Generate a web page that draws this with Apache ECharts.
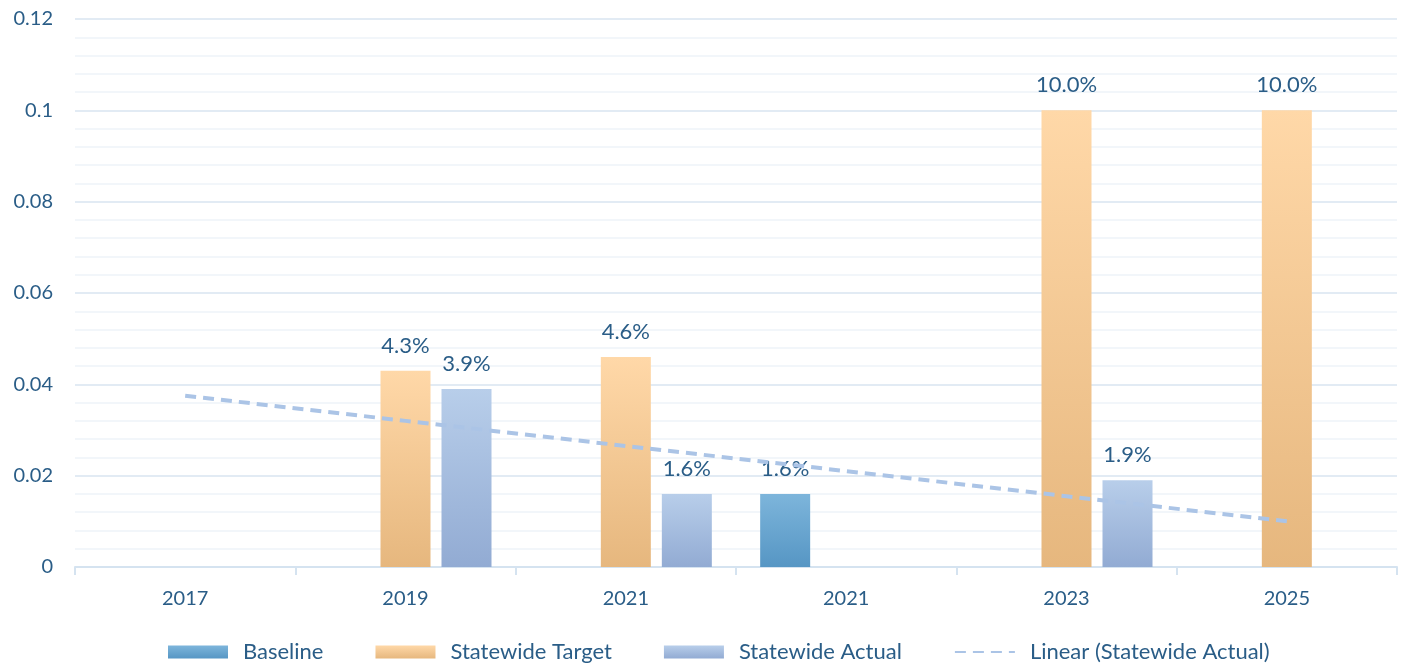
<!DOCTYPE html>
<html>
<head>
<meta charset="utf-8">
<script src="https://cdn.jsdelivr.net/npm/echarts@6/dist/echarts.min.js"></script>
<style>
  html, body { margin: 0; padding: 0; background: #fff; }
  #main { width: 1403px; height: 664px; }
</style>
</head>
<body>
<div id="main"></div>
<script>
const categories = ['2017', '2019', '2021', '2021', '2023', '2025'];
const baseline = ['-', '-', '-', 0.016, '-', '-'];
const target = ['-', 0.043, 0.046, '-', 0.10, 0.10];
const actual = ['-', 0.039, 0.016, '-', 0.019, '-'];
// linear trendline of Statewide Actual
const trend = [0.0375, 0.032, 0.0265, 0.021, 0.0155, 0.010];

const textColor = '#2A5D87';
const fontFamily = 'Lato, "Liberation Sans", sans-serif';

function grad(top, bottom) {
    return new echarts.graphic.LinearGradient(0, 0, 0, 1, [
        { offset: 0, color: top },
        { offset: 1, color: bottom }
    ]);
}

const pctLabel = {
    show: true,
    position: 'top',
    distance: 14,
    color: textColor,
    fontSize: 22,
    fontFamily: fontFamily,
    formatter: p => (p.value * 100).toFixed(1) + '%'
};

let myChart = echarts.init(document.getElementById('main'));
let option = {
    animation: false,
    textStyle: { fontFamily: fontFamily },
    grid: { left: 75, right: 6, top: 19, bottom: 97 },
    legend: {
        top: 636,
        left: 163,
        itemWidth: 60,
        itemHeight: 13,
        itemGap: 52,
        textStyle: { color: textColor, fontSize: 22, fontFamily: fontFamily, padding: [0, 0, 0, 10] },
        data: [
            { name: 'Baseline', icon: 'rect' },
            { name: 'Statewide Target', icon: 'rect' },
            { name: 'Statewide Actual', icon: 'rect' },
            { name: 'Linear (Statewide Actual)', itemStyle: { opacity: 0 } }
        ]
    },
    xAxis: {
        type: 'category',
        data: categories,
        axisLine: { lineStyle: { color: '#D5E3F0', width: 2 } },
        axisTick: { show: true, length: 8, lineStyle: { color: '#D5E3F0', width: 2 } },
        axisLabel: { color: textColor, fontSize: 20, margin: 22, fontFamily: fontFamily }
    },
    yAxis: {
        type: 'value',
        min: 0,
        max: 0.12,
        interval: 0.02,
        axisLine: { show: false },
        axisTick: { show: false },
        axisLabel: { color: textColor, fontSize: 20, margin: 22, fontFamily: fontFamily },
        splitLine: { lineStyle: { color: '#D8E5F1', width: 1.5 } },
        minorTick: { show: false, splitNumber: 5 },
        minorSplitLine: { show: true, lineStyle: { color: '#EEF3F9', width: 1.5 } }
    },
    series: [
        {
            name: 'Baseline',
            type: 'bar',
            barWidth: 50,
            barGap: '22%',
            data: baseline,
            itemStyle: { color: grad('#7DB5DB', '#5696C4') },
            label: pctLabel
        },
        {
            name: 'Statewide Target',
            type: 'bar',
            barWidth: 50,
            barGap: '22%',
            data: target,
            itemStyle: { color: grad('#FFD8A8', '#E6B77E') },
            label: pctLabel
        },
        {
            name: 'Statewide Actual',
            type: 'bar',
            barWidth: 50,
            barGap: '22%',
            data: actual,
            itemStyle: { color: grad('#B8CEEA', '#92ABD3') },
            label: pctLabel
        },
        {
            name: 'Linear (Statewide Actual)',
            type: 'line',
            data: trend,
            symbol: 'none',
            z: 5,
            lineStyle: { color: '#ABC4E6', width: 4, type: [11, 7] }
        }
    ]
};
myChart.setOption(option, true);
window.addEventListener('resize', function () {
    myChart.resize();
});
</script>
</body>
</html>
